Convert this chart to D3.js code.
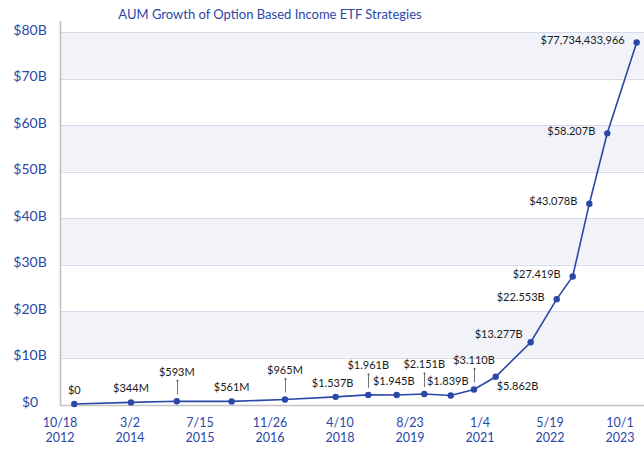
<!DOCTYPE html>
<html>
<head>
<meta charset="utf-8">
<script src="https://cdnjs.cloudflare.com/ajax/libs/d3/7.8.5/d3.min.js"></script>
<style>
  body { margin: 0; background: #fff; }
  text { font-family: Lato, "Open Sans", sans-serif; }
</style>
</head>
<body>
<div id="container"></div>
<script>
/* CONSTANTS AND GLOBALS */
const width = 644;
const height = 450;

// data
const dates = ["2013-01-28", "2014-03-09", "2015-01-30", "2016-02-26", "2017-03-13",
  "2018-03-10", "2018-10-29", "2019-05-20", "2019-12-03", "2020-06-09", "2020-11-22",
  "2021-04-26", "2022-01-01", "2022-07-06", "2022-10-28", "2023-02-24", "2023-07-02", "2024-01-28"];
const aum = [0, 0.344, 0.593, 0.561, 0.965, 1.537, 1.961, 1.945, 2.151, 1.839, 3.110,
  5.862, 13.277, 22.553, 27.419, 43.078, 58.207, 77.734433966]; // $B
const pointLabels = ["$0", "$344M", "$593M", "$561M", "$965M", "$1.537B", "$1.961B", "$1.945B",
  "$2.151B", "$1.839B", "$3.110B", "$5.862B", "$13.277B", "$22.553B", "$27.419B", "$43.078B",
  "$58.207B", "$77,734,433,966"];
const tickDates = ["2012-10-18", "2014-03-02", "2015-07-15", "2016-11-26", "2018-04-10",
  "2019-08-23", "2021-01-04", "2022-05-19", "2023-10-01"];
const yTicks = [0, 10, 20, 30, 40, 50, 60, 70, 80];

const parse = d3.timeParse("%Y-%m-%d");
const data = dates.map((d, i) => ({ date: parse(d), value: aum[i], label: pointLabels[i] }));

const blue = "#2b47a7";

/* HTML ELEMENTS */
const svg = d3.select("#container")
  .append("svg")
  .attr("width", width)
  .attr("height", height);

/* SCALES */
const xScale = d3.scaleTime()
  .domain([parse(tickDates[0]), parse(tickDates[tickDates.length - 1])])
  .range([60, 620]);

const yScale = d3.scaleLinear()
  .domain([0, 80])
  .range([404, 32]);

// alternating bands
svg.selectAll("rect.band")
  .data(yTicks.slice(0, -1).filter((d, i) => i % 2 === 1))
  .join("rect")
  .attr("class", "band")
  .attr("x", 60)
  .attr("width", width - 60)
  .attr("y", d => yScale(d + 10))
  .attr("height", d => yScale(d) - yScale(d + 10))
  .attr("fill", "#f2f3f9");

// gridlines
svg.selectAll("line.grid")
  .data(yTicks.slice(1))
  .join("line")
  .attr("class", "grid")
  .attr("x1", 60)
  .attr("x2", width)
  .attr("y1", d => Math.round(yScale(d)) + 0.5)
  .attr("y2", d => Math.round(yScale(d)) + 0.5)
  .attr("stroke", "#d6d9ec")
  .attr("stroke-width", 1);

// axis lines
svg.append("line")
  .attr("x1", 60).attr("x2", width)
  .attr("y1", 405.5).attr("y2", 405.5)
  .attr("stroke", "#c4c4c4").attr("stroke-width", 1.5);
svg.append("line")
  .attr("x1", 60.5).attr("x2", 60.5)
  .attr("y1", 21).attr("y2", 406)
  .attr("stroke", "#bdbdbd").attr("stroke-width", 1.5);

// y labels
svg.selectAll("text.ylab")
  .data(yTicks)
  .join("text")
  .attr("class", "ylab")
  .attr("x", 30)
  .attr("y", d => yScale(d) - 1)
  .attr("text-anchor", "middle")
  .attr("dominant-baseline", "middle")
  .attr("fill", blue)
  .style("font-size", "14px")
  .text(d => d === 0 ? "$0" : "$" + d + "B");

// x labels (two lines)
const fmtMD = d3.timeFormat("%-m/%-d");
const fmtY = d3.timeFormat("%Y");
const xDates = tickDates.map(parse);
svg.selectAll("text.xlab1")
  .data(xDates)
  .join("text")
  .attr("class", "xlab1")
  .attr("x", d => xScale(d))
  .attr("y", 426.5)
  .attr("text-anchor", "middle")
  .attr("fill", blue)
  .style("font-size", "12.5px")
  .text(fmtMD);
svg.selectAll("text.xlab2")
  .data(xDates)
  .join("text")
  .attr("class", "xlab2")
  .attr("x", d => xScale(d))
  .attr("y", 441.5)
  .attr("text-anchor", "middle")
  .attr("fill", blue)
  .style("font-size", "12.5px")
  .text(fmtY);

// title
svg.append("text")
  .attr("x", 270)
  .attr("y", 18.5)
  .attr("text-anchor", "middle")
  .attr("fill", blue)
  .style("font-size", "13px")
  .text("AUM Growth of Option Based Income ETF Strategies");

// line
const line = d3.line()
  .x(d => xScale(d.date))
  .y(d => yScale(d.value));

svg.append("path")
  .datum(data)
  .attr("d", line)
  .attr("fill", "none")
  .attr("stroke", blue)
  .attr("stroke-width", 1.6);

svg.selectAll("circle")
  .data(data)
  .join("circle")
  .attr("cx", d => xScale(d.date))
  .attr("cy", d => yScale(d.value))
  .attr("r", 3.2)
  .attr("fill", blue);

// label placement
const leaderSet = new Set(["$593M", "$965M", "$1.961B", "$2.151B", "$3.110B"]);
function place(d, i) {
  const x = xScale(d.date), y = yScale(d.value);
  if (leaderSet.has(d.label)) return { x: x, y: y - 28.5, anchor: "middle", leader: true };
  if (d.label === "$5.862B") return { x: x + 1, y: y + 10, anchor: "start" };
  if (d.label === "$13.277B") return { x: x - 8, y: y - 7, anchor: "end" };
  if (d.value > 10) return { x: x - 12, y: y - 1, anchor: "end" };
  const shift = d.value > 1 ? -3 : 0;
  return { x: x + shift, y: y - 13, anchor: "middle" };
}

data.forEach((d, i) => {
  const p = place(d, i);
  if (p.leader) {
    const x = Math.round(xScale(d.date)) + 0.5;
    const y = yScale(d.value);
    svg.append("line")
      .attr("x1", x).attr("x2", x)
      .attr("y1", y - 7).attr("y2", y - 20.5)
      .attr("stroke", "#777").attr("stroke-width", 1);
    svg.append("circle")
      .attr("cx", x).attr("cy", y - 20.5).attr("r", 1)
      .attr("fill", "#555");
  }
  svg.append("text")
    .attr("x", p.x)
    .attr("y", p.y)
    .attr("text-anchor", p.anchor)
    .attr("dominant-baseline", "middle")
    .attr("fill", "#1a1a1a")
    .style("font-size", "11px")
    .text(d.label);
});
</script>
</body>
</html>
